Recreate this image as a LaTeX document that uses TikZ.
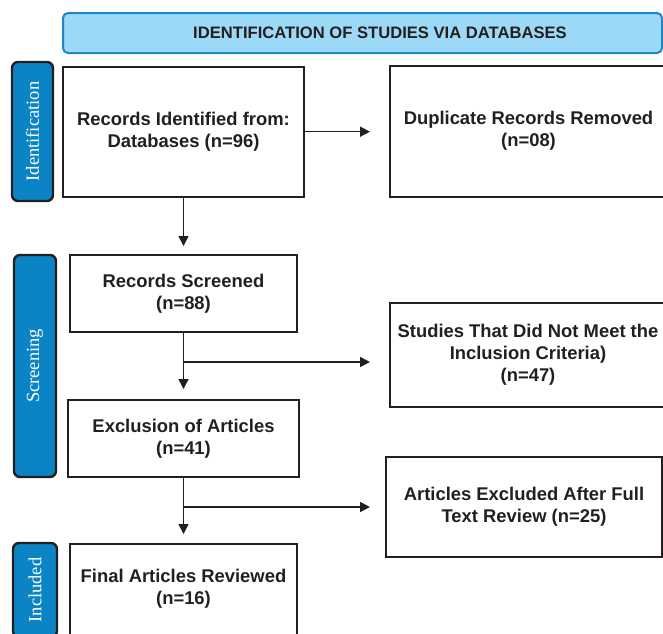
\documentclass[tikz,border=0pt]{standalone}
\usepackage{fontspec}
\setmainfont{Liberation Sans}
\newfontfamily\lblfont{Liberation Serif}
\usetikzlibrary{arrows.meta}
\definecolor{hdrfill}{HTML}{9CD9F6}
\definecolor{hdrline}{HTML}{1C87C9}
\definecolor{lblfill}{HTML}{0B84C6}
\definecolor{inkc}{HTML}{231F20}
\tikzset{
  box/.style={draw=inkc, line width=2pt, fill=white, align=center, inner sep=0pt,
    text=inkc, font=\bfseries\fontsize{18.4}{22}\selectfont},
  lbl/.style={draw=inkc, line width=2.4pt, fill=lblfill, rounded corners=6pt,
    text=white, inner sep=0pt, font=\lblfont\fontsize{18.5}{20}\selectfont},
  hdr/.style={draw=hdrline, line width=2pt, fill=hdrfill, rounded corners=5pt,
    text=inkc, inner sep=0pt, font=\bfseries\fontsize{16.6}{19}\selectfont},
  arr/.style={draw=inkc, line width=1.5pt, -{Triangle[length=10pt,width=10pt]}},
  ln/.style={draw=inkc, line width=1.5pt}
}
\begin{document}
\begin{tikzpicture}[x=1pt,y=-1pt]
\useasboundingbox (0,0) rectangle (663,633);
\clip (0,0) rectangle (663,633);
% header
\node[hdr, minimum width=599, minimum height=40] (hdr) at (362.5,33) {};
\node[font=\bfseries\fontsize{16.6}{19}\selectfont, text=inkc, inner sep=0pt] (hdrt) at (380,33) {IDENTIFICATION OF STUDIES VIA DATABASES};
% side labels
\node[lbl, rotate=90, minimum width=139, minimum height=41] (L1) at (32.5,131.5) {Identification};
\node[lbl, rotate=90, minimum width=222, minimum height=42] (L2) at (35,366) {Screening};
\node[lbl, rotate=90, minimum width=94, minimum height=44] (L3) at (35,590) {Included};
% boxes
\node[box, minimum width=241, minimum height=130] (b1) at (183.5,131.7) {Records Identified from:\\Databases (n=96)};
\node[box, minimum width=278, minimum height=131] (b2) at (529,131.5) {};
\node[text=inkc, align=center, inner sep=0pt, font=\bfseries\fontsize{18.4}{22}\selectfont] (b2t) at (528.5,131) {Duplicate Records Removed\\(n=08)};
\node[box, minimum width=227, minimum height=77] (b3) at (183.5,293.5) {Records Screened\\(n=88)};
\node[box, minimum width=278, minimum height=104] (b4) at (529,355) {};
\node[text=inkc, align=center, inner sep=0pt, font=\bfseries\fontsize{18.4}{22}\selectfont] (b4t) at (528,355) {Studies That Did Not Meet the\\Inclusion Criteria)\\(n=47)};
\node[box, minimum width=231, minimum height=77] (b5) at (183.5,438.5) {Exclusion of Articles\\(n=41)};
\node[box, minimum width=276, minimum height=100] (b6) at (524,507) {Articles Excluded After Full\\Text Review (n=25)};
\node[box, minimum width=227, minimum height=92] (b7) at (183.5,590) {};
\node[text=inkc, align=center, inner sep=0pt, font=\bfseries\fontsize{18.4}{22}\selectfont] (b7t) at (183.5,589) {Final Articles Reviewed\\(n=16)};
% connectors
\draw[arr, shorten >=19pt] (b1.east) -- (b1.east -| b2.west);
\draw[arr, shorten >=8pt] (b1.south) -- (b3.north);
\draw[arr, shorten >=10pt] (b3.south) -- (b5.north);
\coordinate (j1) at (183.5,362);
\draw[arr, shorten >=19pt] (j1) -- (j1 -| b4.west);
\draw[arr, shorten >=9pt] (b5.south) -- (b7.north);
\coordinate (j2) at (183.5,507);
\draw[arr, shorten >=15pt] (j2) -- (j2 -| b6.west);
\end{tikzpicture}
\end{document}
